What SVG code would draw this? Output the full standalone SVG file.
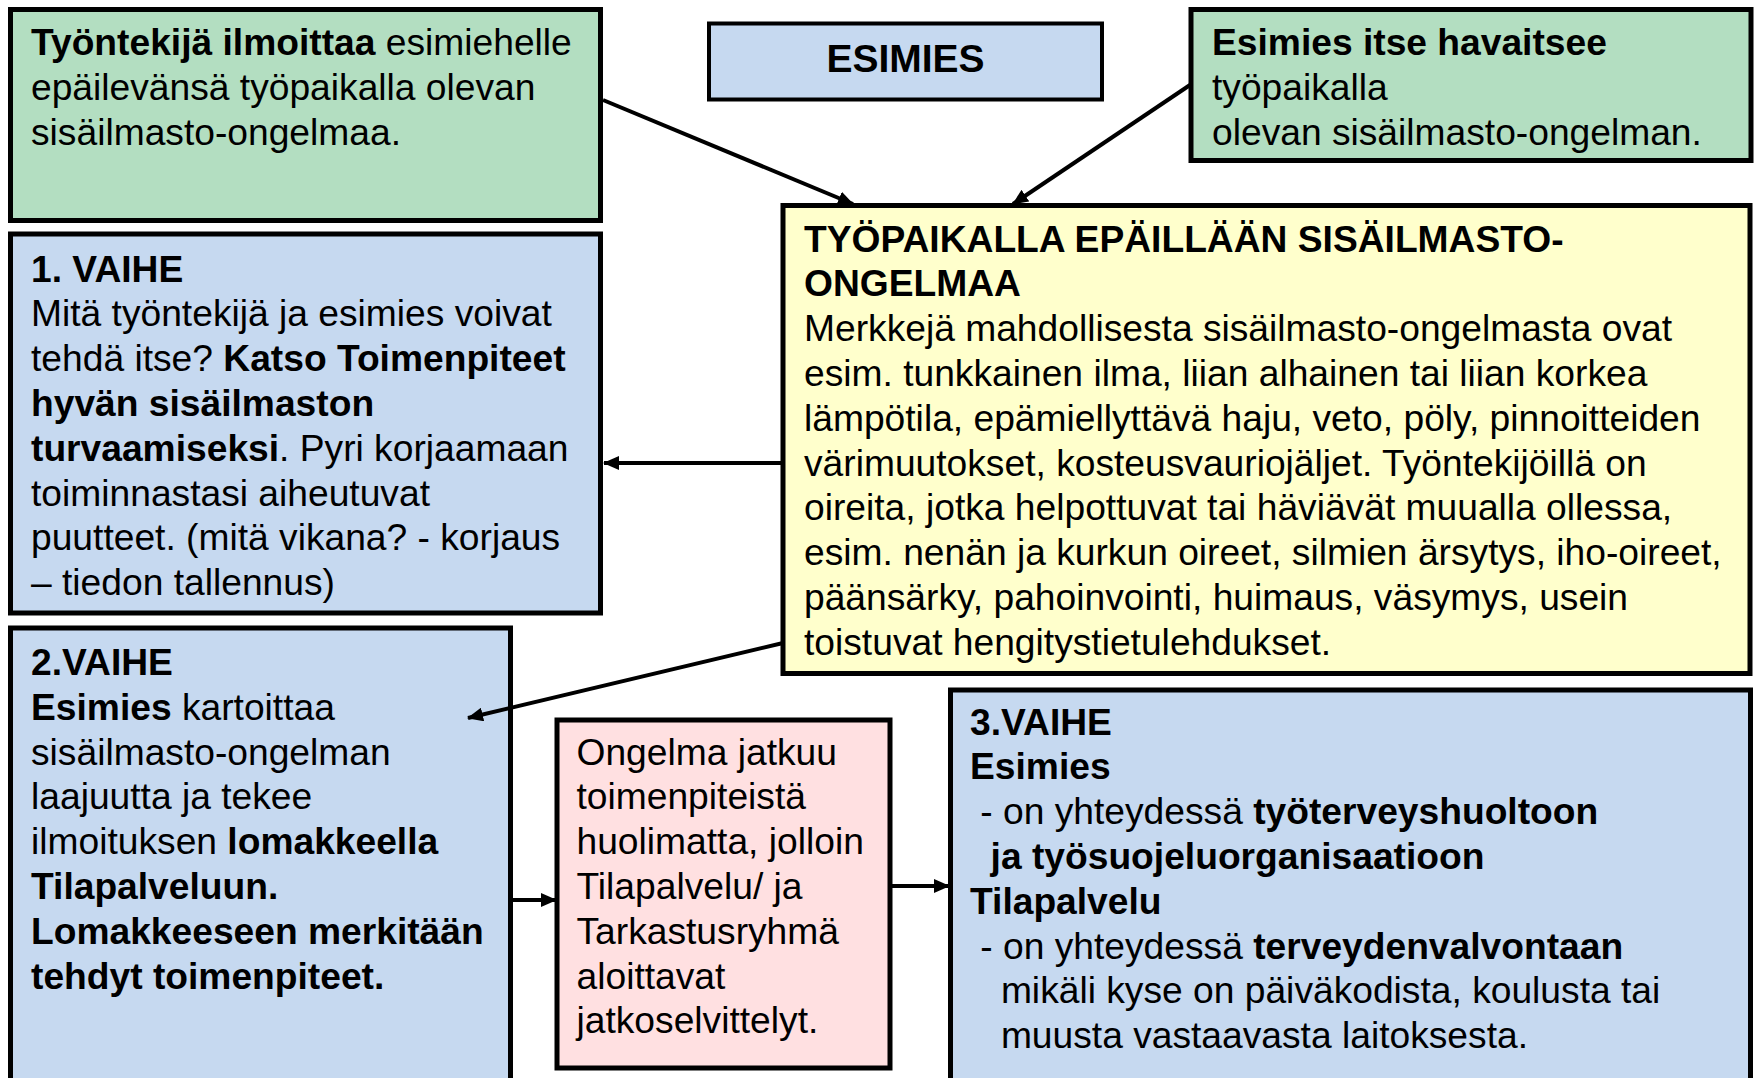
<svg xmlns="http://www.w3.org/2000/svg" width="1756" height="1078" viewBox="0 0 1756 1078">
<style>
  .box { stroke: #000; stroke-width: 5; }
  .green { fill: #B3DEC1; }
  .blue { fill: #C6D9F0; }
  .yellow { fill: #FFFFCC; }
  .pink { fill: #FFE0E1; }
  text { font-family: "Liberation Sans", Arial, sans-serif; font-size: 37.2px; fill: #000; }
  .b { font-weight: bold; }
  .conn { stroke: #000; stroke-width: 4; fill: none; marker-end: url(#ah); }
</style>
<defs>
  <marker id="ah" markerUnits="userSpaceOnUse" markerWidth="16" markerHeight="14" refX="15" refY="7" orient="auto">
    <path d="M0,0 L16,7 L0,14 Z" fill="#000"/>
  </marker>
</defs>
<rect width="1756" height="1078" fill="#fff"/>

<g id="node-tyontekija">
  <rect class="box green" x="10.5" y="9.5" width="590" height="211"/>
  <text x="31" y="55"><tspan class="b">Työntekijä ilmoittaa</tspan> esimiehelle</text>
  <text x="31" y="99.8">epäilevänsä työpaikalla olevan</text>
  <text x="31" y="144.6">sisäilmasto-ongelmaa.</text>
</g>

<g id="node-esimies">
  <rect class="box blue" x="709" y="23.5" width="393" height="76" style="stroke-width:4"/>
  <text class="b" x="905.5" y="72" text-anchor="middle" style="font-size:39px">ESIMIES</text>
</g>

<g id="node-esimies-havaitsee">
  <rect class="box green" x="1191" y="9.5" width="560" height="151"/>
  <text class="b" x="1212" y="55">Esimies itse havaitsee</text>
  <text x="1212" y="99.8">työpaikalla</text>
  <text x="1212" y="144.6">olevan sisäilmasto-ongelman.</text>
</g>

<g id="node-epaillaan">
  <rect class="box yellow" x="783" y="205.5" width="967" height="468"/>
  <text class="b" x="804" y="251.5">TYÖPAIKALLA EPÄILLÄÄN SISÄILMASTO-</text>
  <text class="b" x="804" y="296.3">ONGELMAA</text>
  <text x="804" y="341.1">Merkkejä mahdollisesta sisäilmasto-ongelmasta ovat</text>
  <text x="804" y="385.9">esim. tunkkainen ilma, liian alhainen tai liian korkea</text>
  <text x="804" y="430.7">lämpötila, epämiellyttävä haju, veto, pöly, pinnoitteiden</text>
  <text x="804" y="475.5">värimuutokset, kosteusvauriojäljet. Työntekijöillä on</text>
  <text x="804" y="520.3">oireita, jotka helpottuvat tai häviävät muualla ollessa,</text>
  <text x="804" y="565.1">esim. nenän ja kurkun oireet, silmien ärsytys, iho-oireet,</text>
  <text x="804" y="609.9">päänsärky, pahoinvointi, huimaus, väsymys, usein</text>
  <text x="804" y="654.7">toistuvat hengitystietulehdukset.</text>
</g>

<g id="node-vaihe1">
  <rect class="box blue" x="10.5" y="234" width="590" height="379"/>
  <text class="b" x="31" y="281.5">1. VAIHE</text>
  <text x="31" y="326.3">Mitä työntekijä ja esimies voivat</text>
  <text x="31" y="371.1">tehdä itse? <tspan class="b">Katso Toimenpiteet</tspan></text>
  <text class="b" x="31" y="415.9">hyvän sisäilmaston</text>
  <text x="31" y="460.7"><tspan class="b">turvaamiseksi</tspan>. Pyri korjaamaan</text>
  <text x="31" y="505.5">toiminnastasi aiheutuvat</text>
  <text x="31" y="550.3">puutteet. (mitä vikana? - korjaus</text>
  <text x="31" y="595.1">– tiedon tallennus)</text>
</g>

<g id="node-vaihe2">
  <rect class="box blue" x="10.5" y="628" width="500" height="460"/>
  <text class="b" x="31" y="675">2.VAIHE</text>
  <text x="31" y="719.8"><tspan class="b">Esimies</tspan> kartoittaa</text>
  <text x="31" y="764.6">sisäilmasto-ongelman</text>
  <text x="31" y="809.4">laajuutta ja tekee</text>
  <text x="31" y="854.2">ilmoituksen <tspan class="b">lomakkeella</tspan></text>
  <text class="b" x="31" y="899">Tilapalveluun.</text>
  <text class="b" x="31" y="943.8">Lomakkeeseen merkitään</text>
  <text class="b" x="31" y="988.6">tehdyt toimenpiteet.</text>
</g>

<g id="node-ongelma-jatkuu">
  <rect class="box pink" x="557" y="720" width="333" height="348"/>
  <text x="576.5" y="764.5">Ongelma jatkuu</text>
  <text x="576.5" y="809.3">toimenpiteistä</text>
  <text x="576.5" y="854.1">huolimatta, jolloin</text>
  <text x="576.5" y="898.9">Tilapalvelu/ ja</text>
  <text x="576.5" y="943.7">Tarkastusryhmä</text>
  <text x="576.5" y="988.5">aloittavat</text>
  <text x="576.5" y="1033.3">jatkoselvittelyt.</text>
</g>

<g id="node-vaihe3">
  <rect class="box blue" x="950.5" y="690" width="800" height="400"/>
  <text class="b" x="970" y="734.5">3.VAIHE</text>
  <text class="b" x="970" y="779.3">Esimies</text>
  <text x="980.3" y="824.1">- on yhteydessä <tspan class="b">työterveyshuoltoon</tspan></text>
  <text class="b" x="990.6" y="868.9">ja työsuojeluorganisaatioon</text>
  <text class="b" x="970" y="913.7">Tilapalvelu</text>
  <text x="980.3" y="958.5">- on yhteydessä <tspan class="b">terveydenvalvontaan</tspan></text>
  <text x="1000.9" y="1003.3">mikäli kyse on päiväkodista, koulusta tai</text>
  <text x="1000.9" y="1048.1">muusta vastaavasta laitoksesta.</text>
</g>

<g id="connectors">
  <line class="conn" x1="603" y1="100" x2="853" y2="204"/>
  <line class="conn" x1="1190" y1="85" x2="1013" y2="204"/>
  <line class="conn" x1="783" y1="463" x2="604" y2="463"/>
  <line class="conn" x1="783" y1="643" x2="468" y2="718"/>
  <line class="conn" x1="512" y1="900" x2="556" y2="900"/>
  <line class="conn" x1="892" y1="886" x2="949" y2="886"/>
</g>
</svg>
